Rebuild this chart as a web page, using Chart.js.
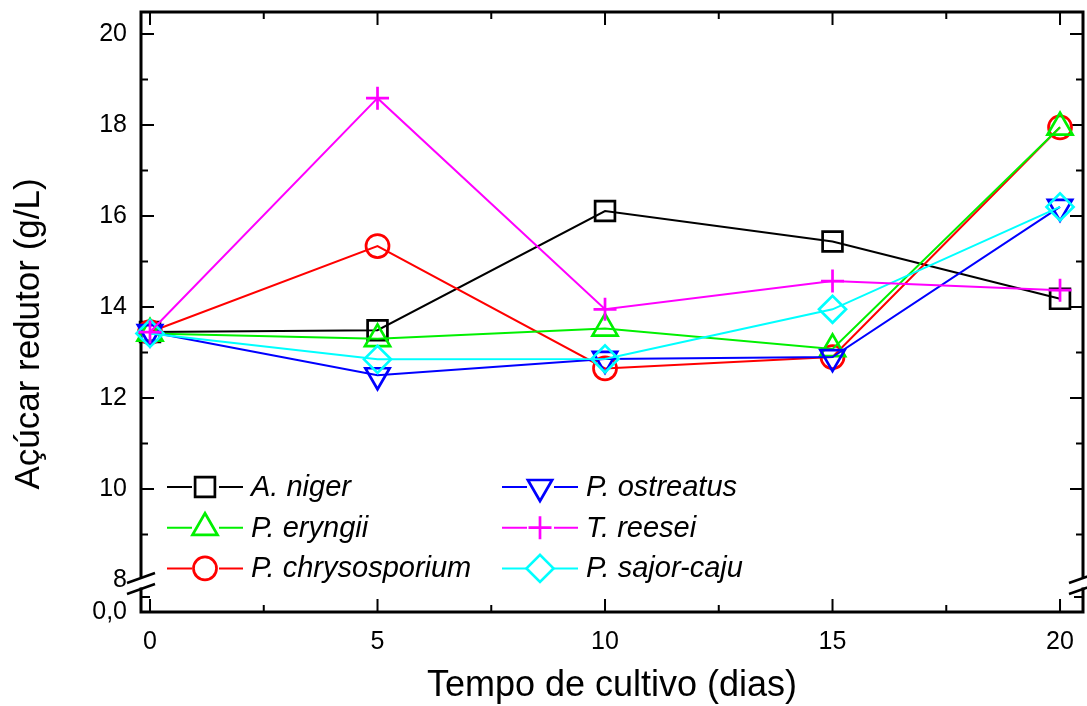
<!DOCTYPE html>
<html lang="pt">
<head>
    <meta charset="UTF-8">
    <title>Açúcar redutor x Tempo de cultivo</title>
    <script src="https://cdn.jsdelivr.net/npm/chart.js"></script>
    <style>
        html, body { margin: 0; padding: 0; background: #ffffff; }
        #wrap { width: 1087px; height: 706px; }
    </style>
</head>
<body>
<div id="wrap"><canvas id="acucarChart" width="1087" height="706"></canvas></div>
<script>
    // dados
    const days = [0, 5, 10, 15, 20];
    const aNiger = [13.45, 13.49, 16.11, 15.44, 14.18];
    const pEryngii = [13.42, 13.30, 13.53, 13.08, 17.95];
    const pChrysosporium = [13.45, 15.34, 12.65, 12.90, 17.95];
    const pOstreatus = [13.45, 12.50, 12.86, 12.90, 16.20];
    const tReesei = [13.45, 18.59, 13.95, 14.57, 14.37];
    const pSajorCaju = [13.42, 12.85, 12.86, 13.95, 16.20];

    const seriesNames = ['A. niger', 'P. eryngii', 'P. chrysosporium', 'P. ostreatus', 'T. reesei', 'P. sajor-caju'];
    const xTicks = [0, 5, 10, 15, 20];
    const yTicks = [8, 10, 12, 14, 16, 18, 20];
    const yBreakLabel = '0,0';
    const xTitle = 'Tempo de cultivo (dias)';
    const yTitle = 'Açúcar redutor (g/L)';

    const X_MIN = -0.198, X_MAX = 20.505;
    const Y_MIN = 7.297, Y_MAX = 20.484;
    const FONT = "'Liberation Sans', Arial, sans-serif";

    function makeSet(label, values, color, style, radius, rotation, order) {
        return {
            label: label,
            data: days.map((d, i) => ({ x: d, y: values[i] })),
            borderColor: color,
            backgroundColor: 'rgba(0,0,0,0)',
            borderWidth: 2,
            pointStyle: style,
            pointRadius: radius,
            pointHoverRadius: radius,
            pointRotation: rotation,
            pointBorderColor: color,
            pointBackgroundColor: 'rgba(0,0,0,0)',
            pointBorderWidth: 2.7,
            tension: 0,
            clip: false,
            order: order
        };
    }

    const datasets = [
        makeSet(seriesNames[0], aNiger, '#000000', 'rect', 14, 0, 5),
        makeSet(seriesNames[1], pEryngii, '#00f000', 'triangle', 14.5, 0, 3),
        makeSet(seriesNames[2], pChrysosporium, '#ff0000', 'circle', 11.5, 0, 4),
        makeSet(seriesNames[3], pOstreatus, '#0000ff', 'triangle', 14, 180, 2),
        makeSet(seriesNames[4], tReesei, '#ff00ff', 'cross', 11.5, 0, 0),
        makeSet(seriesNames[5], pSajorCaju, '#00ffff', 'rectRot', 13.5, 0, 1)
    ];

    function noPad(s) {
        s.paddingTop = 0; s.paddingBottom = 0; s.paddingLeft = 0; s.paddingRight = 0;
    }

    // moldura, ticks internos e quebra do eixo
    const framePlugin = {
        id: 'frame',
        beforeDatasetsDraw(chart) {
            const ctx = chart.ctx;
            const a = chart.chartArea;
            const xs = chart.scales.x, ys = chart.scales.y;
            const breakTop = a.bottom - 36, breakBot = a.bottom - 23;
            ctx.save();
            ctx.strokeStyle = '#000';
            ctx.lineCap = 'square';
            ctx.lineWidth = 3;
            ctx.beginPath();
            ctx.moveTo(a.left, a.top); ctx.lineTo(a.right, a.top);
            ctx.moveTo(a.left, a.bottom); ctx.lineTo(a.right, a.bottom);
            [a.left, a.right].forEach(x => {
                ctx.moveTo(x, a.top); ctx.lineTo(x, breakTop);
                ctx.moveTo(x, breakBot); ctx.lineTo(x, a.bottom);
            });
            ctx.stroke();

            ctx.lineWidth = 2;
            ctx.lineCap = 'butt';
            ctx.beginPath();
            // ticks x
            for (let v = 0; v <= 20; v += 2.5) {
                const px = xs.getPixelForValue(v);
                const len = (v % 5 === 0) ? 13 : 7;
                ctx.moveTo(px, a.bottom); ctx.lineTo(px, a.bottom - len);
                ctx.moveTo(px, a.top); ctx.lineTo(px, a.top + len);
            }
            // ticks y
            for (let v = 9; v <= 20; v += 1) {
                const py = ys.getPixelForValue(v);
                const len = (v % 2 === 0) ? 13 : 7;
                ctx.moveTo(a.left, py); ctx.lineTo(a.left + len, py);
                ctx.moveTo(a.right, py); ctx.lineTo(a.right - len, py);
            }
            const pyLow = a.bottom - 15;
            ctx.moveTo(a.left, pyLow); ctx.lineTo(a.left + 9, pyLow);
            ctx.moveTo(a.right, pyLow); ctx.lineTo(a.right - 9, pyLow);
            ctx.stroke();

            // sinal de quebra
            ctx.lineWidth = 2.5;
            ctx.beginPath();
            [a.left, a.right].forEach(x => {
                ctx.moveTo(x - 14, breakTop + 7); ctx.lineTo(x + 14, breakTop - 3);
                ctx.moveTo(x - 14, breakBot + 5); ctx.lineTo(x + 14, breakBot - 5);
            });
            ctx.stroke();
            ctx.restore();
        },
        afterDraw(chart) {
            const ctx = chart.ctx;
            const a = chart.chartArea;
            ctx.save();
            // título do eixo y
            ctx.fillStyle = '#000';
            ctx.font = '35px ' + FONT;
            ctx.textAlign = 'center';
            ctx.textBaseline = 'middle';
            ctx.translate(29, 334);
            ctx.rotate(-Math.PI / 2);
            ctx.fillText(yTitle, 0, 0);
            ctx.restore();

            // legenda em duas colunas
            ctx.save();
            chart.data.datasets.forEach((ds, i) => {
                const col = i < 3 ? 0 : 1;
                const row = i % 3;
                const x0 = col === 0 ? a.left + 26 : a.left + 361;
                const y = a.top + 475 + row * 40.7;
                const mx = x0 + 38;
                ctx.strokeStyle = ds.borderColor;
                ctx.lineWidth = 2;
                ctx.beginPath();
                ctx.moveTo(x0, y); ctx.lineTo(mx - 13, y);
                ctx.moveTo(mx + 14, y); ctx.lineTo(x0 + 76, y);
                ctx.stroke();
                ctx.lineWidth = ds.pointBorderWidth;
                ctx.fillStyle = 'rgba(0,0,0,0)';
                Chart.helpers.drawPoint(ctx, {
                    pointStyle: ds.pointStyle,
                    rotation: ds.pointRotation,
                    radius: ds.pointRadius,
                    borderWidth: ds.pointBorderWidth
                }, mx, y);
                ctx.fillStyle = '#000';
                ctx.font = 'italic 29px ' + FONT;
                ctx.textAlign = 'left';
                ctx.textBaseline = 'middle';
                ctx.fillText(ds.label, x0 + 84, y + 1);
            });
            ctx.restore();
        }
    };

    const ctx = document.getElementById('acucarChart').getContext('2d');
    new Chart(ctx, {
        type: 'line',
        data: { datasets: datasets },
        options: {
            responsive: false,
            animation: false,
            events: [],
            layout: { autoPadding: false, padding: { top: 12, right: 4, left: 0, bottom: 0 } },
            plugins: { legend: { display: false }, tooltip: { enabled: false } },
            scales: {
                x: {
                    type: 'linear',
                    min: X_MIN,
                    max: X_MAX,
                    grid: { display: false, drawTicks: false },
                    border: { display: false },
                    afterBuildTicks: s => { s.ticks = xTicks.map(v => ({ value: v })); },
                    afterFit: s => { s.height = 94; noPad(s); },
                    ticks: {
                        autoSkip: false,
                        maxRotation: 0,
                        padding: 15,
                        color: '#000',
                        font: { family: FONT, size: 25 },
                        callback: v => String(v)
                    },
                    title: {
                        display: true,
                        text: xTitle,
                        color: '#000',
                        font: { family: FONT, size: 36, lineHeight: 1 },
                        padding: { top: 0, bottom: 2 }
                    }
                },
                y: {
                    type: 'linear',
                    min: Y_MIN,
                    max: Y_MAX,
                    grid: { display: false, drawTicks: false },
                    border: { display: false },
                    afterBuildTicks: s => {
                        s.ticks = [{ value: Y_MIN }].concat(yTicks.map(v => ({ value: v })));
                    },
                    afterFit: s => { s.width = 141; noPad(s); },
                    ticks: {
                        autoSkip: false,
                        padding: 14,
                        color: '#000',
                        font: { family: FONT, size: 25 },
                        callback: v => (v === Y_MIN ? yBreakLabel : String(v))
                    }
                }
            }
        },
        plugins: [framePlugin]
    });
</script>
</body>
</html>
